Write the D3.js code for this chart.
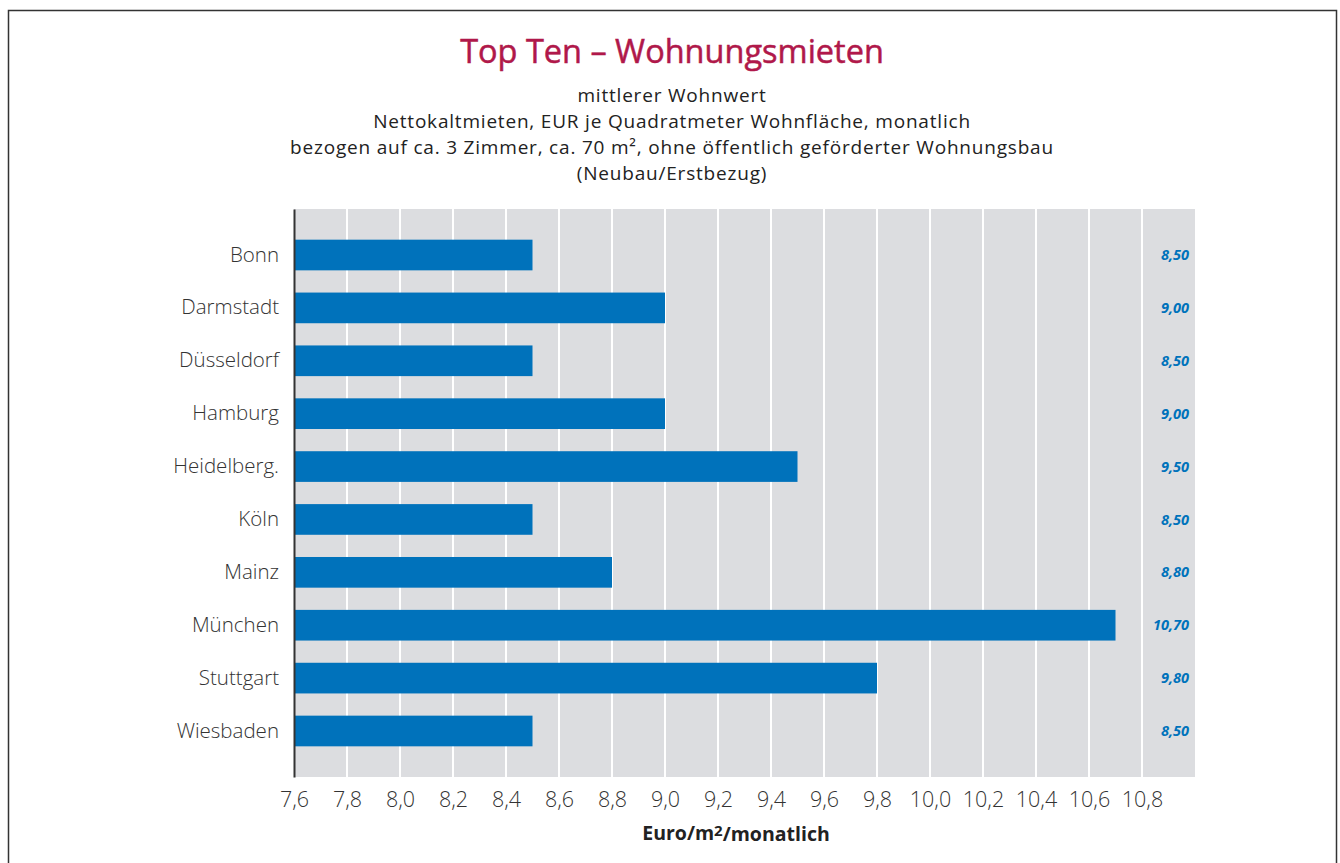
<!DOCTYPE html>
<html>
<head>
<meta charset="utf-8">
<script src="https://cdn.jsdelivr.net/npm/d3@7"></script>
<style>
  body { margin: 0; background: #fff; }
  text { font-family: "Open Sans", "Noto Sans", sans-serif; }
</style>
</head>
<body>
<div id="chart"></div>
<script>
// data
var cities = ["Bonn", "Darmstadt", "Düsseldorf", "Hamburg", "Heidelberg.", "Köln", "Mainz", "München", "Stuttgart", "Wiesbaden"];
var rents = [8.50, 9.00, 8.50, 9.00, 9.50, 8.50, 8.80, 10.70, 9.80, 8.50];
var tickValues = [7.6, 7.8, 8.0, 8.2, 8.4, 8.6, 8.8, 9.0, 9.2, 9.4, 9.6, 9.8, 10.0, 10.2, 10.4, 10.6, 10.8];
var subtitleLines = [
  "mittlerer Wohnwert",
  "Nettokaltmieten, EUR je Quadratmeter Wohnfläche, monatlich",
  "bezogen auf ca. 3 Zimmer, ca. 70 m², ohne öffentlich geförderter Wohnungsbau",
  "(Neubau/Erstbezug)"
];

var W = 1340, H = 863;
var margin = {top: 209, right: 145, bottom: 86, left: 294};
var width = W - margin.left - margin.right,
    height = H - margin.top - margin.bottom;

var fmt = function(v, d) { return v.toFixed(d).replace(".", ","); };

var svg = d3.select("#chart").append("svg")
    .attr("width", W)
    .attr("height", H);

// outer frame
svg.append("rect")
    .attr("x", 8.5).attr("y", 10.5)
    .attr("width", 1328).attr("height", 870)
    .attr("fill", "none")
    .attr("stroke", "#333")
    .attr("stroke-width", 1.5);

// title and subtitle
svg.append("text")
    .attr("x", 672).attr("y", 63)
    .attr("text-anchor", "middle")
    .attr("fill", "#b0184a")
    .attr("stroke", "#b0184a")
    .attr("stroke-width", 0.5)
    .style("font-size", "32.5px")
    .style("font-weight", 400)
    .text("Top Ten – Wohnungsmieten");

svg.selectAll(".sub")
  .data(subtitleLines)
  .enter().append("text")
    .attr("class", "sub")
    .attr("x", 672)
    .attr("y", function(d, i) { return 102 + i * 26; })
    .attr("text-anchor", "middle")
    .attr("fill", "#222")
    .style("font-size", "19px")
    .style("letter-spacing", "0.8px")
    .style("font-weight", 500)
    .text(function(d) { return d; });

var g = svg.append("g")
    .attr("transform", "translate(" + margin.left + "," + margin.top + ")");

var x = d3.scaleLinear()
    .domain([7.6, 11.0])
    .range([0, width]);

var y = d3.scaleBand()
    .domain(cities)
    .range([0, height])
    .paddingInner(0.42)
    .paddingOuter(0.58);

// background
g.append("rect")
    .attr("width", width)
    .attr("height", height)
    .attr("fill", "#dcdde0");

// white grid lines
g.selectAll(".grid")
  .data(tickValues.slice(1))
  .enter().append("line")
    .attr("class", "grid")
    .attr("x1", function(d) { return x(d); })
    .attr("x2", function(d) { return x(d); })
    .attr("y1", 0).attr("y2", height)
    .attr("stroke", "#fff")
    .attr("stroke-width", 2);

// bars
g.selectAll(".bar")
  .data(rents)
  .enter().append("rect")
    .attr("class", "bar")
    .attr("x", 0)
    .attr("y", function(d, i) { return y(cities[i]); })
    .attr("width", function(d) { return x(d) - x(7.6); })
    .attr("height", y.bandwidth())
    .attr("fill", "#0072bb");

// value labels at right
g.selectAll(".val")
  .data(rents)
  .enter().append("text")
    .attr("class", "val")
    .attr("x", width - 6)
    .attr("y", function(d, i) { return y(cities[i]) + y.bandwidth() / 2; })
    .attr("dy", "0.35em")
    .attr("text-anchor", "end")
    .attr("fill", "#0072bb")
    .style("font-size", "14.5px")
    .style("font-weight", 700)
    .style("font-style", "italic")
    .text(function(d) { return fmt(d, 2); });

// y axis
var yAxis = g.append("g")
    .call(d3.axisLeft(y).tickSize(0).tickPadding(15));
yAxis.select(".domain").attr("stroke", "#333").attr("stroke-width", 2);
yAxis.selectAll("text")
    .attr("fill", "#333")
    .style("font-size", "20.5px")
    .style("font-weight", 300);

// x axis
var xAxis = g.append("g")
    .attr("transform", "translate(0," + height + ")")
    .call(d3.axisBottom(x).tickValues(tickValues).tickSize(0).tickPadding(15)
      .tickFormat(function(d) { return fmt(d, 1); }));
xAxis.select(".domain").remove();
xAxis.selectAll("text")
    .attr("fill", "#333")
    .style("font-size", "21.5px")
    .style("font-weight", 300);

// x axis title
var xt = svg.append("text")
    .attr("x", 736).attr("y", 840)
    .attr("text-anchor", "middle")
    .attr("fill", "#222")
    .style("font-size", "19.5px")
    .style("font-weight", 700);
xt.append("tspan").text("Euro/m");
xt.append("tspan").text("2").attr("dy", "-0.3em").style("font-size", "15px");
xt.append("tspan").text("/monatlich").attr("dy", "0.3em");
</script>
</body>
</html>
